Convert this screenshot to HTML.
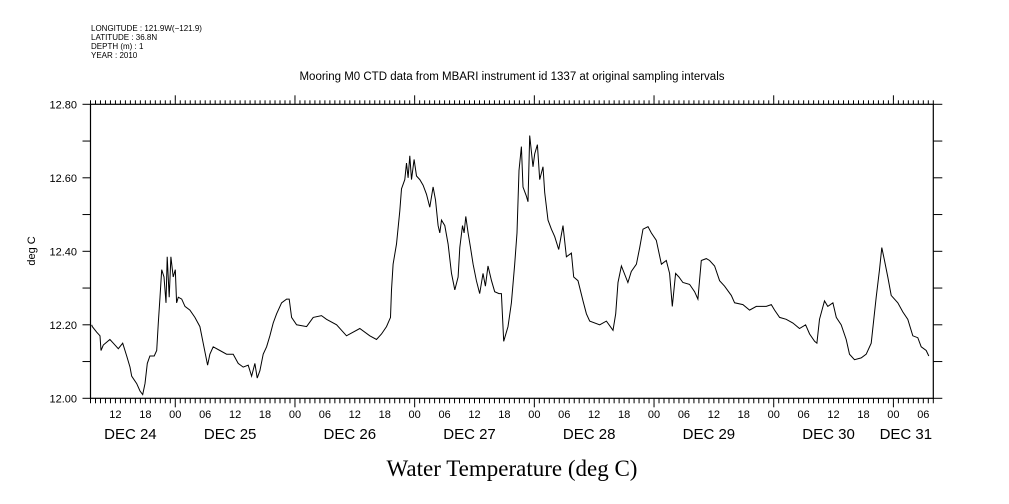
<!DOCTYPE html>
<html><head><meta charset="utf-8"><style>
body{margin:0;background:#fff;}
svg{display:block;font-family:"Liberation Sans",sans-serif;}
</style></head><body>
<svg id="chart" width="1009" height="504" viewBox="0 0 1009 504" xmlns="http://www.w3.org/2000/svg">
<rect width="1009" height="504" fill="#fff"/>
<g font-size="8" fill="#000">
<text x="91" y="31">LONGITUDE : 121.9W(−121.9)</text>
<text x="91" y="40">LATITUDE : 36.8N</text>
<text x="91" y="49">DEPTH (m) : 1</text>
<text x="91" y="58">YEAR : 2010</text>
</g>
<text x="512" y="80" text-anchor="middle" font-size="11.5">Mooring M0 CTD data from MBARI instrument id 1337 at original sampling intervals</text>
<text transform="translate(35,251) rotate(-90)" text-anchor="middle" font-size="11">deg C</text>
<text x="512" y="476" text-anchor="middle" font-family="'Liberation Serif',serif" font-size="23">Water Temperature (deg C)</text>
<g id="axes"></g>
<g id="series"></g>
</svg>
<script>
const hours=[7.24,7.36,8.24,8.9,9.1,9.56,10.9,11.57,12.57,13.45,14.25,14.92,15.26,16.26,16.92,17.46,17.92,18.38,18.92,19.78,20.27,20.59,20.93,21.27,21.73,22.13,22.39,22.79,23.13,23.59,24.0,24.27,24.6,25.28,25.94,26.94,27.94,28.94,29.6,30.49,30.95,31.61,32.95,34.29,35.62,36.62,37.62,38.62,39.3,39.97,40.43,40.97,41.63,42.31,42.97,43.63,44.31,45.32,46.32,46.84,47.32,48.32,50.33,51.65,53.33,54.33,56.34,58.34,61.01,63.01,64.35,65.35,66.36,67.16,67.36,67.68,68.36,69.02,69.36,70.02,70.36,70.69,71.02,71.36,71.89,72.37,73.03,73.69,74.37,75.04,75.7,76.18,76.7,77.04,77.38,78.04,78.7,79.38,80.05,80.71,81.05,81.59,81.91,82.25,82.71,83.19,83.71,84.39,85.05,85.71,86.19,86.71,87.4,88.06,88.92,89.4,89.86,90.72,91.4,92.07,92.53,92.93,93.41,93.73,94.41,94.73,95.07,95.74,96.08,96.62,97.08,97.74,98.08,98.74,99.42,100.08,100.88,101.75,102.43,103.43,103.89,104.75,105.75,106.43,107.1,109.1,110.44,111.77,112.31,112.77,113.45,114.77,115.45,116.46,117.12,117.78,118.79,119.46,120.46,121.47,122.47,123.13,123.67,124.33,124.99,125.79,127.13,128.13,128.8,129.48,130.48,131.14,132.14,133.14,134.15,135.49,136.15,137.82,139.16,140.5,142.51,143.51,144.17,145.17,146.51,147.84,149.18,150.39,151.19,152.19,152.65,153.19,154.19,154.85,155.86,156.54,157.54,158.54,159.2,160.2,161.55,162.55,163.55,164.56,165.22,165.68,166.22,166.88,167.56,168.88,169.89,170.89,171.89,172.89,173.57,174.57,175.09];
const temps=[12.20,12.195,12.18,12.17,12.13,12.145,12.16,12.15,12.135,12.15,12.115,12.085,12.06,12.04,12.02,12.01,12.04,12.095,12.115,12.115,12.13,12.205,12.275,12.35,12.33,12.26,12.385,12.275,12.385,12.33,12.35,12.26,12.275,12.27,12.25,12.24,12.22,12.195,12.15,12.09,12.12,12.14,12.13,12.12,12.12,12.095,12.085,12.09,12.06,12.095,12.055,12.075,12.12,12.14,12.17,12.205,12.23,12.26,12.27,12.27,12.22,12.20,12.195,12.22,12.225,12.215,12.20,12.17,12.19,12.17,12.16,12.175,12.195,12.22,12.295,12.365,12.42,12.51,12.57,12.595,12.64,12.60,12.66,12.595,12.65,12.605,12.595,12.58,12.555,12.52,12.575,12.54,12.47,12.45,12.485,12.47,12.42,12.34,12.295,12.33,12.41,12.47,12.45,12.495,12.45,12.41,12.365,12.32,12.285,12.34,12.305,12.36,12.32,12.29,12.285,12.285,12.155,12.195,12.26,12.365,12.45,12.62,12.685,12.575,12.55,12.535,12.715,12.63,12.665,12.69,12.595,12.63,12.56,12.485,12.46,12.44,12.405,12.47,12.385,12.395,12.33,12.32,12.265,12.23,12.21,12.20,12.21,12.185,12.23,12.315,12.36,12.315,12.345,12.365,12.41,12.46,12.467,12.45,12.43,12.365,12.375,12.34,12.25,12.34,12.33,12.315,12.31,12.29,12.27,12.375,12.38,12.375,12.36,12.32,12.305,12.28,12.26,12.255,12.24,12.25,12.25,12.255,12.24,12.22,12.215,12.205,12.19,12.20,12.175,12.155,12.15,12.215,12.265,12.25,12.26,12.22,12.20,12.16,12.12,12.105,12.11,12.12,12.15,12.275,12.35,12.41,12.375,12.33,12.28,12.26,12.235,12.215,12.17,12.165,12.14,12.13,12.115];
const yTicks=[12.0,12.1,12.2,12.3,12.4,12.5,12.6,12.7,12.8];
const yLabels=["12.00","12.20","12.40","12.60","12.80"];
const hourLabels=["12","18","00","06"];
const dayNames=["DEC 24","DEC 25","DEC 26","DEC 27","DEC 28","DEC 29","DEC 30","DEC 31"];
const dayLabelHours=[15,35,59,83,107,131,155,170.5];

const NS="http://www.w3.org/2000/svg";
const L=90.5,R=933.3,T=104.3,B=398.3,H0=7,H1=176,V0=12,V1=12.8;
const xs=h=>L+(h-H0)/(H1-H0)*(R-L);
const ys=v=>B-(v-V0)/(V1-V0)*(B-T);
const axes=document.getElementById('axes');
function mk(tag,attrs,parent){const e=document.createElementNS(NS,tag);for(const k in attrs)e.setAttribute(k,attrs[k]);parent.appendChild(e);return e;}

const frame=mk('rect',{x:L,y:T,width:R-L,height:B-T,fill:'none',stroke:'#000','stroke-width':1.2},axes);



for(let h=H0;h<=H1;h++){
  const x=xs(h);const major=(h%24===0);
  const t1=mk('line',{x1:x,x2:x,y1:T,y2:T-(major?9:4),stroke:'#000'},axes);
  
  
  const t2=mk('line',{x1:x,x2:x,y1:B,y2:B+(major?9:5),stroke:'#000'},axes);
  
  
  if(h%6===0){
    const t=mk('text',{x:x,y:418,'text-anchor':'middle','font-size':11},axes);
    t.textContent=hourLabels[(h/6+2)%4];
    
    
  }
}
dayNames.forEach((d,i)=>{
  const t=mk('text',{x:xs(dayLabelHours[i]),y:439,'text-anchor':'middle','font-size':15},axes);
  t.textContent=d;
  
  
});
yTicks.forEach(v=>{
  const y=ys(v);
  const a=mk('line',{x1:L,x2:L-8,y1:y,y2:y,stroke:'#000'},axes);
  
  
  const b=mk('line',{x1:R,x2:R+9,y1:y,y2:y,stroke:'#000'},axes);
  
  
});
yLabels.forEach(s=>{
  const t=mk('text',{x:77,y:ys(parseFloat(s))+4,'text-anchor':'end','font-size':11},axes);
  t.textContent=s;
  
  
});
const pts=hours.map((h,i)=>xs(h).toFixed(1)+','+ys(temps[i]).toFixed(1)).join(' ');
const line=mk('polyline',{points:pts,fill:'none',stroke:'#000','stroke-width':1},document.getElementById('series'));


</script>
</body></html>
